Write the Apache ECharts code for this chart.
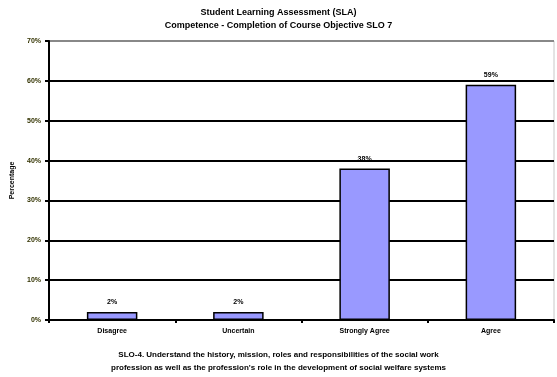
<!DOCTYPE html>
<html>
<head>
<meta charset="utf-8">
<script src="https://cdn.jsdelivr.net/npm/echarts@6/dist/echarts.min.js"></script>
<style>
  html, body { margin: 0; padding: 0; background: #fff; }
  #chart { width: 557px; height: 377px; }
</style>
</head>
<body>
<div id="chart"></div>
<script>
// Survey responses for the course objective
const categories = ['Disagree', 'Uncertain', 'Strongly Agree', 'Agree'];
const percentages = [2, 2, 38, 59];
const yTicks = [0, 10, 20, 30, 40, 50, 60, 70];

const titleLines = [
  'Student Learning Assessment (SLA)',
  'Competence - Completion of Course Objective SLO 7'
];
const footerLines = [
  'SLO-4. Understand the history, mission, roles and responsibilities of the social work',
  "profession as well as the profession's role in the development of social welfare systems"
];

const font = 'Liberation Sans, Arial, sans-serif';
const chart = echarts.init(document.getElementById('chart'));

chart.setOption({
  animation: false,
  title: [
    {
      text: titleLines.join('\n'),
      left: 'center', top: 1,
      textStyle: { fontFamily: font, fontSize: 9, fontWeight: 'bold', color: '#000', lineHeight: 13 }
    },
    {
      text: footerLines.join('\n'),
      left: 'center', top: 343,
      textStyle: { fontFamily: font, fontSize: 8, fontWeight: 'bold', color: '#000', lineHeight: 13 }
    }
  ],
  grid: {
    left: 49, right: 3, top: 41, bottom: 57,
    show: true, borderColor: '#c8c8c8', borderWidth: 1
  },
  xAxis: {
    type: 'category',
    data: categories,
    axisLine: { lineStyle: { color: '#000', width: 2 } },
    axisTick: { show: true, length: 3, lineStyle: { color: '#000', width: 2 } },
    axisLabel: { fontFamily: font, fontSize: 7, fontWeight: 'bold', color: '#000', margin: 8 }
  },
  yAxis: {
    type: 'value',
    min: yTicks[0], max: yTicks[yTicks.length - 1], interval: 10,
    name: 'Percentage',
    nameLocation: 'middle', nameGap: 33, nameRotate: 90,
    nameTextStyle: { fontFamily: font, fontSize: 7, fontWeight: 'bold', color: '#000' },
    axisLine: { show: true, lineStyle: { color: '#000', width: 2 } },
    axisTick: { show: true, length: 4, lineStyle: { color: '#000', width: 2 } },
    axisLabel: {
      fontFamily: font, fontSize: 7, fontWeight: 'bold', color: '#333300', margin: 8,
      formatter: v => v + '%'
    },
    splitLine: {
      show: true,
      lineStyle: { color: ['#000', '#000', '#000', '#000', '#000', '#000', '#000', '#888'], width: 2 }
    }
  },
  series: [{
    type: 'bar',
    data: percentages,
    barWidth: '40%',
    barCategoryGap: '60%',
    itemStyle: { color: '#9999ff', borderColor: '#000', borderWidth: 1.5 },
    label: {
      show: true, position: 'top', distance: 6,
      fontFamily: font, fontSize: 7, fontWeight: 'bold', color: '#000',
      formatter: p => p.value + '%'
    }
  }]
});
</script>
</body>
</html>
